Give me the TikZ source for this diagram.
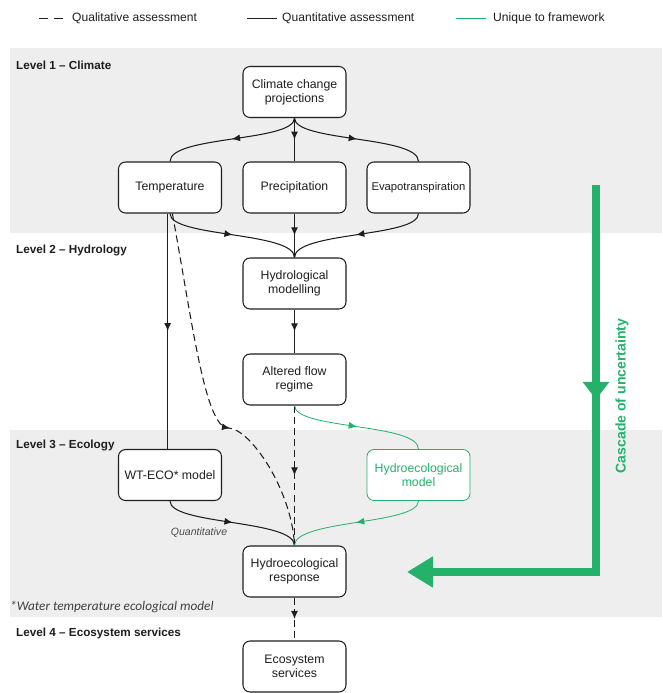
\documentclass[tikz,border=0pt]{standalone}
\usepackage{fontspec}
\setmainfont{Liberation Sans}
\newfontfamily\notefont{Carlito}
\usepackage{xcolor}
\usetikzlibrary{arrows.meta,decorations.markings}

\definecolor{casc}{RGB}{36,178,107}
\definecolor{band}{RGB}{238,238,238}
\definecolor{ink}{RGB}{30,30,30}

\tikzset{
  box/.style={draw=ink, rounded corners=6pt, fill=white, line width=0.9pt,
    minimum width=3.09cm, minimum height=1.53cm, align=center, inner sep=1pt,
    text=ink, font=\fontsize{10.5}{12.2}\selectfont},
  greenbox/.style={box, draw=casc, text=casc, line width=0.7pt},
  lvl/.style={anchor=west, inner sep=0pt, text=ink, font=\bfseries\fontsize{10}{12}\selectfont},
  legtxt/.style={anchor=west, inner sep=0pt, text=ink, font=\fontsize{10.3}{12}\selectfont},
  flow/.style={draw=ink, line width=0.9pt, postaction={decorate},
    decoration={markings, mark=at position #1 with {\arrow{Latex[length=7pt,width=6pt]}}}},
  flow/.default=0.5,
  qual/.style={flow=#1, dash pattern=on 6pt off 3.5pt},
  qual/.default=0.5,
  uniq/.style={flow=#1, draw=casc, line width=0.7pt},
  uniq/.default=0.5,
  cascade/.style={draw=casc, line width=6.8pt, line join=miter,
    -{Triangle[length=22pt,width=25pt]}, postaction={decorate},
    decoration={markings, mark=at position 183pt with {\arrow[casc]{Triangle[length=15pt,width=22pt]}}}}
}

\begin{document}
\begin{tikzpicture}[x=0.03cm, y=-0.03cm]
  \useasboundingbox (0,0) rectangle (662,693);

  % background bands
  \fill[band] (10,48) rectangle (662,233);
  \fill[band] (10,430) rectangle (662,617);

  % legend
  \draw[ink, line width=0.8pt, dash pattern=on 8pt off 4.4pt] (39,18) -- (63,18);
  \node[legtxt] (legqual) at (72,18) {Qualitative assessment};
  \draw[ink, line width=0.8pt] (247,18) -- (277,18);
  \node[legtxt] (legquant) at (282,18) {Quantitative assessment};
  \draw[casc, line width=0.8pt] (456,18) -- (486,18);
  \node[legtxt] (leguniq) at (493,18) {Unique to framework};

  % levels
  \node[lvl] (lev1) at (16,65) {Level 1 -- Climate};
  \node[lvl] (lev2) at (16,250) {Level 2 -- Hydrology};
  \node[lvl] (lev3) at (16,445) {Level 3 -- Ecology};
  \node[lvl] (lev4) at (16,633) {Level 4 -- Ecosystem services};
  \node[anchor=west, inner sep=0pt, text=ink!85, font=\notefont\itshape\fontsize{11.3}{13}\selectfont] (fnote) at (10,607) {*Water temperature ecological model};

  % boxes
  \node[box] (clim) at (294.5,92) {Climate change\\projections};
  \node[box] (temp) at (170,187.5) {Temperature};
  \node[box] (prec) at (294.5,187.5) {Precipitation};
  \node[box, font=\fontsize{9.6}{11.5}\selectfont] (evap) at (418.5,187.5) {Evapotranspiration};
  \node[box] (hydro) at (294.5,283.5) {Hydrological\\modelling};
  \node[box] (altered) at (294.5,379.5) {Altered flow\\regime};
  \node[box] (wteco) at (170,475) {WT-ECO* model};
  \node[greenbox] (hemod) at (418.5,475) {Hydroecological\\model};
  \node[box] (resp) at (294.5,571.5) {Hydroecological\\response};
  \node[box] (ess) at (294.5,666.5) {Ecosystem\\services};
  \node[text=ink!80, font=\itshape\fontsize{9}{11}\selectfont] (quantlbl) at (199,533) {Quantitative};

  % level 1
  \draw[flow] (clim.south) .. controls +(0,24) and +(0,-26) .. (temp.north);
  \draw[flow] (clim) -- (prec);
  \draw[flow] (clim.south) .. controls +(0,24) and +(0,-26) .. (evap.north);

  % level 2
  \draw[flow] (temp.south) .. controls +(0,24) and +(0,-26) .. (hydro.north);
  \draw[flow] (prec) -- (hydro);
  \draw[flow] (evap.south) .. controls +(0,24) and +(0,-26) .. (hydro.north);
  \draw[flow] (hydro) -- (altered);
  \draw[flow] ([xshift=-2]temp.south) -- ([xshift=-2]wteco.north);

  % level 3
  \coordinate (dq) at (228,428);
  \draw[qual=0.62] ([xshift=2]temp.south) .. controls (192,320) and (205,428) .. (dq)
    .. controls (250,428) and (292,490) .. (resp.north);
  \draw[qual] (altered) -- (resp);
  \draw[flow] (wteco.south) .. controls +(0,24) and +(0,-26) .. (resp.north);
  \draw[uniq] (altered.south) .. controls +(0,24) and +(0,-26) .. (hemod.north);
  \draw[uniq] (hemod.south) .. controls +(0,24) and +(0,-26) .. (resp.north);

  % level 4
  \draw[qual] (resp) -- (ess);

  % cascade of uncertainty
  \coordinate (cascTop) at (596,185);
  \coordinate (cascCorner) at (596,572);
  \coordinate (cascEnd) at (407,572);
  \draw[cascade] (cascTop) -- (cascCorner) -- (cascEnd);
  \node[rotate=90, text=casc, font=\bfseries\fontsize{12}{14}\selectfont] (casclbl) at (622,396) {Cascade of uncertainty};
\end{tikzpicture}
\end{document}
